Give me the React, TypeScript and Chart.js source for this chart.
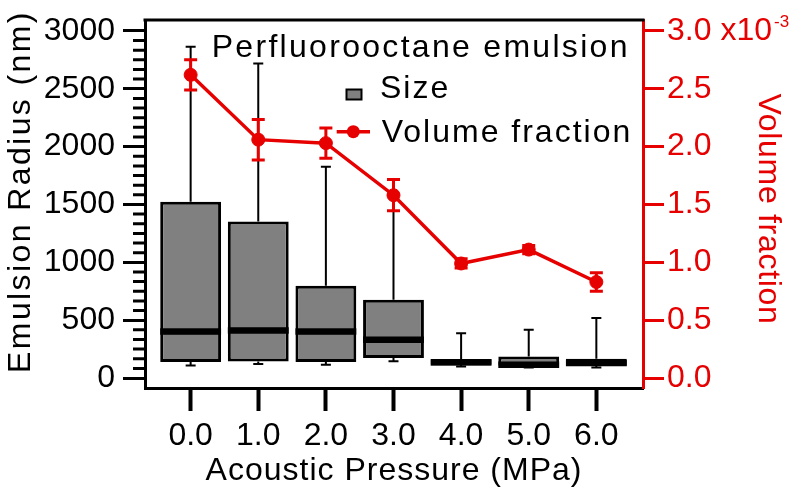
import React, { useEffect, useRef } from 'react';
import { Chart, registerables } from 'chart.js';

Chart.register(...registerables);

// ---- data ----
const pressures = [0, 1, 2, 3, 4, 5, 6];
const pressureLabels = ['0.0', '1.0', '2.0', '3.0', '4.0', '5.0', '6.0'];
const radiusMin = [109, 121, 115, 145, 100, 92, 92];
const radiusQ1 = [138, 143, 138, 173, 115, 106, 106];
const radiusMedian = [402, 411, 402, 331, 135, 115, 130];
const radiusQ3 = [1524, 1352, 797, 676, 164, 187, 166];
const radiusMax = [2862, 2718, 1826, 1600, 388, 417, 518];
const volumeFraction = [2.62, 2.06, 2.03, 1.58, 0.99, 1.11, 0.83];
const volumeFractionErr = [0.13, 0.175, 0.13, 0.135, 0.04, 0.035, 0.08];

const radiusTicks = [0, 500, 1000, 1500, 2000, 2500, 3000];
const radiusTickLabels = ['0', '500', '1000', '1500', '2000', '2500', '3000'];
const fractionTicks = [0, 0.5, 1.0, 1.5, 2.0, 2.5, 3.0];
const fractionTickLabels = ['0.0', '0.5', '1.0', '1.5', '2.0', '2.5', '3.0 x10'];
const fractionExponent = '-3';
const minorPerMajor = 6;

const legendTitle = 'Perfluorooctane emulsion';
const sizeLabel = 'Size';
const fractionLabel = 'Volume fraction';
const xTitle = 'Acoustic Pressure (MPa)';
const yTitle = 'Emulsion Radius (nm)';
const y1Title = 'Volume fraction';

// ---- styles ----
const FAMILY = '"Liberation Sans", Arial, Helvetica, sans-serif';
const RED = '#e60000';
const GRAY = '#808080';

const extrasPlugin = {
  id: 'boxExtras',
  beforeDatasetsDraw(chart: any) {
    const { ctx, scales } = chart;
    const x = scales.x;
    const y = scales.y;
    ctx.save();
    ctx.strokeStyle = '#000';
    ctx.lineWidth = 2;
    pressures.forEach((p, i) => {
      const px = x.getPixelForValue(p);
      const yMax = y.getPixelForValue(radiusMax[i]);
      const yQ3 = y.getPixelForValue(radiusQ3[i]);
      const yQ1 = y.getPixelForValue(radiusQ1[i]);
      const yMin = y.getPixelForValue(radiusMin[i]);
      ctx.beginPath();
      ctx.moveTo(px, yQ3);
      ctx.lineTo(px, yMax);
      ctx.moveTo(px - 5, yMax);
      ctx.lineTo(px + 5, yMax);
      ctx.moveTo(px, yQ1);
      ctx.lineTo(px, yMin);
      ctx.moveTo(px - 5, yMin);
      ctx.lineTo(px + 5, yMin);
      ctx.stroke();
    });
    ctx.restore();
  },
  afterDatasetDraw(chart: any, args: any) {
    if (args.index !== 0) return;
    const { ctx, scales } = chart;
    const meta = chart.getDatasetMeta(0);
    ctx.save();
    ctx.fillStyle = '#000';
    pressures.forEach((p, i) => {
      const el = meta.data[i];
      const w = el.width;
      const px = scales.x.getPixelForValue(p);
      const ym = scales.y.getPixelForValue(radiusMedian[i]);
      ctx.fillRect(px - w / 2, ym - 3.25, w, 6.5);
    });
    ctx.restore();
  },
  afterDatasetsDraw(chart: any) {
    const { ctx, scales } = chart;
    const x = scales.x;
    const y1 = scales.y1;
    ctx.save();
    ctx.strokeStyle = RED;
    ctx.lineWidth = 3;
    pressures.forEach((p, i) => {
      const px = x.getPixelForValue(p);
      const yt = y1.getPixelForValue(volumeFraction[i] + volumeFractionErr[i]);
      const yb = y1.getPixelForValue(volumeFraction[i] - volumeFractionErr[i]);
      ctx.beginPath();
      ctx.moveTo(px, yt);
      ctx.lineTo(px, yb);
      ctx.moveTo(px - 6.5, yt);
      ctx.lineTo(px + 6.5, yt);
      ctx.moveTo(px - 6.5, yb);
      ctx.lineTo(px + 6.5, yb);
      ctx.stroke();
    });
    ctx.restore();
  },
  afterDraw(chart: any) {
    const { ctx, chartArea, scales } = chart;
    const y = scales.y;
    const y1 = scales.y1;
    ctx.save();
    // top frame
    ctx.strokeStyle = '#000';
    ctx.lineWidth = 3;
    ctx.beginPath();
    ctx.moveTo(chartArea.left - 1.5, chartArea.top);
    ctx.lineTo(chartArea.right + 1.5, chartArea.top);
    ctx.stroke();
    // minor ticks on left axis
    const step = (radiusTicks[1] - radiusTicks[0]) / minorPerMajor;
    const last = radiusTicks[radiusTicks.length - 1];
    ctx.lineWidth = 3;
    ctx.beginPath();
    for (let k = 0; k * step <= last + 1e-6; k++) {
      if (k % minorPerMajor === 0) continue;
      const py = y.getPixelForValue(k * step);
      ctx.moveTo(chartArea.left - 12, py);
      ctx.lineTo(chartArea.left, py);
    }
    ctx.stroke();

    // exponent on right axis
    ctx.fillStyle = RED;
    ctx.font = `32px ${FAMILY}`;
    const lbl = fractionTickLabels[fractionTickLabels.length - 1];
    const lx = y1.left + 21 + 3 + ctx.measureText(lbl).width + 2;
    const ly = y1.getPixelForValue(fractionTicks[fractionTicks.length - 1]) - 4;
    ctx.font = `17px ${FAMILY}`;
    ctx.textBaseline = 'alphabetic';
    ctx.textAlign = 'left';
    ctx.fillText(fractionExponent, lx, ly);

    // axis titles
    ctx.font = `32px ${FAMILY}`;
    ctx.textBaseline = 'middle';
    ctx.textAlign = 'center';
    ctx.fillStyle = '#000';
    (ctx as any).letterSpacing = '1px';
    ctx.fillText(xTitle, (chartArea.left + chartArea.right) / 2, 471.5);

    ctx.save();
    (ctx as any).letterSpacing = '2.4px';
    ctx.translate(21.5, 191.5);
    ctx.rotate(-Math.PI / 2);
    ctx.fillText(yTitle, 0, 0);
    ctx.restore();

    ctx.save();
    ctx.fillStyle = RED;
    (ctx as any).letterSpacing = '0.7px';
    ctx.translate(768, 209);
    ctx.rotate(Math.PI / 2);
    ctx.fillText(y1Title, 0, 0);
    ctx.restore();

    // legend
    (ctx as any).letterSpacing = '2.3px';
    ctx.textAlign = 'left';
    ctx.textBaseline = 'alphabetic';
    ctx.fillStyle = '#000';
    ctx.fillText(legendTitle, 211.7, 56.7);
    (ctx as any).letterSpacing = '2px';
    ctx.fillText(sizeLabel, 380, 98);
    ctx.fillText(fractionLabel, 381.7, 141.7);
    (ctx as any).letterSpacing = '0px';

    ctx.fillStyle = GRAY;
    ctx.fillRect(346.5, 89.5, 15, 10);
    ctx.strokeStyle = '#000';
    ctx.lineWidth = 2;
    ctx.strokeRect(346.5, 89.5, 15, 10);

    ctx.strokeStyle = RED;
    ctx.lineWidth = 3.5;
    ctx.beginPath();
    ctx.moveTo(336.7, 131.7);
    ctx.lineTo(370, 131.7);
    ctx.stroke();
    ctx.fillStyle = RED;
    ctx.beginPath();
    ctx.arc(353.3, 131.7, 6.5, 0, Math.PI * 2);
    ctx.fill();

    ctx.restore();
  },
};

export default function App() {
  const canvasRef = useRef<HTMLCanvasElement | null>(null);

  useEffect(() => {
    const canvas = canvasRef.current;
    if (!canvas) return;
    const tickFont = { family: FAMILY, size: 32 };
    const chart = new Chart(canvas, {
      type: 'bar',
      data: {
        datasets: [
          {
            type: 'bar',
            label: sizeLabel,
            data: pressures.map((p, i) => ({ x: p, y: [radiusQ1[i], radiusQ3[i]] })) as any,
            backgroundColor: GRAY,
            borderColor: '#000',
            borderWidth: 3,
            borderSkipped: false,
            barPercentage: 0.9,
            categoryPercentage: 1.0,
            yAxisID: 'y',
            order: 2,
          } as any,
          {
            type: 'line',
            label: fractionLabel,
            data: pressures.map((p, i) => ({ x: p, y: volumeFraction[i] })) as any,
            borderColor: RED,
            backgroundColor: RED,
            borderWidth: 3.5,
            pointRadius: 6.5,
            pointBackgroundColor: RED,
            pointBorderColor: RED,
            pointBorderWidth: 1,
            tension: 0,
            yAxisID: 'y1',
            order: 1,
          } as any,
        ],
      },
      options: {
        animation: false,
        responsive: false,
        maintainAspectRatio: false,
        devicePixelRatio: 1,
        layout: { padding: { top: 20, left: 0, right: 0, bottom: 0 } },
        plugins: {
          legend: { display: false },
          tooltip: { enabled: false },
        },
        scales: {
          x: {
            type: 'linear',
            min: -0.675,
            max: 6.69,
            offset: false,
            afterBuildTicks: (s: any) => {
              s.ticks = pressures.map((v) => ({ value: v }));
            },
            afterFit: (s: any) => {
              s.height = 103;
              s.paddingLeft = 0;
              s.paddingRight = 0;
            },
            ticks: {
              autoSkip: false,
              maxRotation: 0,
              minRotation: 0,
              padding: 6,
              color: '#000',
              font: tickFont,
              callback: (v: any) => {
                const i = pressures.indexOf(Number(v));
                return i >= 0 ? pressureLabels[i] : '';
              },
            },
            grid: {
              drawOnChartArea: false,
              offset: false,
              tickLength: 23,
              tickWidth: 4,
              tickColor: '#000',
            },
            border: { display: true, color: '#000', width: 3 },
          },
          y: {
            type: 'linear',
            position: 'left',
            min: -86,
            max: 3094,
            afterBuildTicks: (s: any) => {
              s.ticks = radiusTicks.map((v) => ({ value: v }));
            },
            afterFit: (s: any) => {
              s.width = 145;
              s.paddingTop = 0;
              s.paddingBottom = 0;
            },
            ticks: {
              padding: 8,
              color: '#000',
              font: tickFont,
              callback: (v: any) => {
                const i = radiusTicks.indexOf(Number(v));
                return i >= 0 ? radiusTickLabels[i] : '';
              },
            },
            grid: {
              drawOnChartArea: false,
              tickLength: 22,
              tickWidth: 3,
              tickColor: '#000',
            },
            border: { display: true, color: '#000', width: 3 },
          },
          y1: {
            type: 'linear',
            position: 'right',
            min: -0.086,
            max: 3.094,
            afterBuildTicks: (s: any) => {
              s.ticks = fractionTicks.map((v) => ({ value: v }));
            },
            afterFit: (s: any) => {
              s.width = 157;
              s.paddingTop = 0;
              s.paddingBottom = 0;
            },
            ticks: {
              padding: 3,
              color: RED,
              font: tickFont,
              callback: (v: any) => {
                const i = fractionTicks.indexOf(Number(v));
                return i >= 0 ? fractionTickLabels[i] : '';
              },
            },
            grid: {
              drawOnChartArea: false,
              tickLength: 21,
              tickWidth: 3,
              tickColor: RED,
            },
            border: { display: true, color: RED, width: 3 },
          },
        },
      } as any,
      plugins: [extrasPlugin],
    });
    return () => {
      chart.destroy();
    };
  }, []);

  return (
    <div style={{ position: 'absolute', left: 0, top: 0, width: 800, height: 491 }}>
      <canvas ref={canvasRef} width={800} height={491} style={{ display: 'block' }} />
    </div>
  );
}
